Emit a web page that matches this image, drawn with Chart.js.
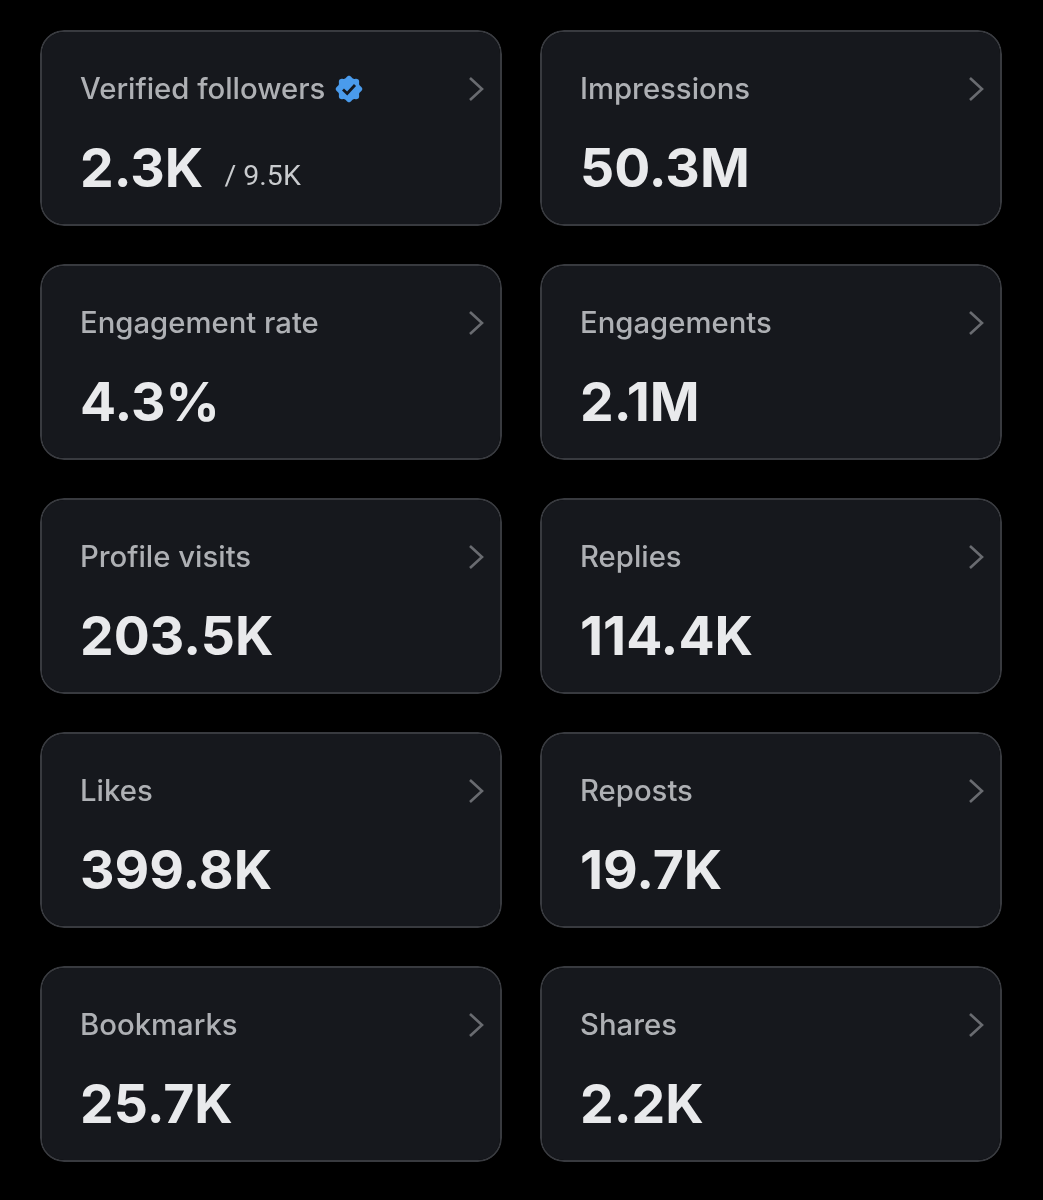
<!DOCTYPE html>
<html>
<head>
<meta charset="utf-8">
<title>Account overview</title>
<script src="https://cdn.jsdelivr.net/npm/chart.js@4"></script>
<style>
  html, body { margin: 0; padding: 0; background: #000; }
  canvas { display: block; }
</style>
</head>
<body>
<canvas id="cards" width="1043" height="1200"></canvas>
<script>
const columns = ['left', 'right'];
const cardLabels = [
  'Verified followers', 'Impressions',
  'Engagement rate', 'Engagements',
  'Profile visits', 'Replies',
  'Likes', 'Reposts',
  'Bookmarks', 'Shares'
];
const cardValues = [
  '2.3K', '50.3M',
  '4.3%', '2.1M',
  '203.5K', '114.4K',
  '399.8K', '19.7K',
  '25.7K', '2.2K'
];
const followersTotal = '/ 9.5K';

const rowCount = cardLabels.length / columns.length;
const rowInset = 0.0812; // gap between cards, in rows

const rowDatasets = [];
for (let row = 0; row < rowCount; row++) {
  rowDatasets.push({
    data: columns.map(() => [row + rowInset, row + 1 - rowInset]),
    backgroundColor: '#16181d',
    borderColor: '#383a3f',
    borderWidth: 2,
    borderSkipped: false,
    borderRadius: 24,
    grouped: false,
    barPercentage: 1,
    categoryPercentage: 0.924
  });
}

function drawBadge(ctx, cx, cy) {
  ctx.beginPath();
  const scallops = 8;
  for (let a = 0; a <= 360; a += 3) {
    const t = a * Math.PI / 180;
    const r = 12.2 + 1.1 * Math.cos(scallops * t);
    ctx.lineTo(cx + r * Math.cos(t), cy + r * Math.sin(t));
  }
  ctx.closePath();
  ctx.fillStyle = '#4a9bec';
  ctx.fill();
  ctx.beginPath();
  ctx.moveTo(cx - 6, cy + 0.5);
  ctx.lineTo(cx - 1.8, cy + 4.5);
  ctx.lineTo(cx + 6, cy - 4);
  ctx.strokeStyle = '#14181f';
  ctx.lineWidth = 2.8;
  ctx.stroke();
}

const cardText = {
  id: 'cardText',
  afterDatasetsDraw(chart) {
    const ctx = chart.ctx;
    ctx.save();
    ctx.textBaseline = 'alphabetic';
    ctx.textAlign = 'left';
    cardLabels.forEach((label, i) => {
      const row = Math.floor(i / columns.length);
      const col = i % columns.length;
      const bar = chart.getDatasetMeta(row).data[col];
      const left = bar.x - bar.width / 2;
      const right = bar.x + bar.width / 2;
      const top = Math.min(bar.y, bar.base);

      ctx.font = '500 29.3px Inter';
      ctx.fillStyle = '#aeb0b4';
      ctx.fillText(label, left + 40, top + 69);

      ctx.font = '700 53.5px Inter';
      ctx.fillStyle = '#e9eaec';
      ctx.fillText(cardValues[i], left + 40, top + 157);

      ctx.beginPath();
      ctx.moveTo(right - 32, top + 48);
      ctx.lineTo(right - 20, top + 59);
      ctx.lineTo(right - 32, top + 70);
      ctx.strokeStyle = '#696b70';
      ctx.lineWidth = 2.6;
      ctx.stroke();

      if (i === 0) {
        ctx.font = '400 28.5px Roboto';
        ctx.fillStyle = '#c9cbce';
        ctx.fillText(followersTotal, left + 184.5, top + 155);
        drawBadge(ctx, left + 309, top + 59);
      }
    });
    ctx.restore();
  }
};

new Chart(document.getElementById('cards'), {
  type: 'bar',
  data: { labels: columns, datasets: rowDatasets },
  plugins: [cardText],
  options: {
    responsive: false,
    animation: false,
    layout: { padding: { left: 21, right: 22, top: 11, bottom: 19 } },
    plugins: { legend: { display: false }, tooltip: { enabled: false } },
    scales: {
      x: { display: false },
      y: { display: false, reverse: true, min: 0, max: rowCount }
    }
  }
});
</script>
</body>
</html>
